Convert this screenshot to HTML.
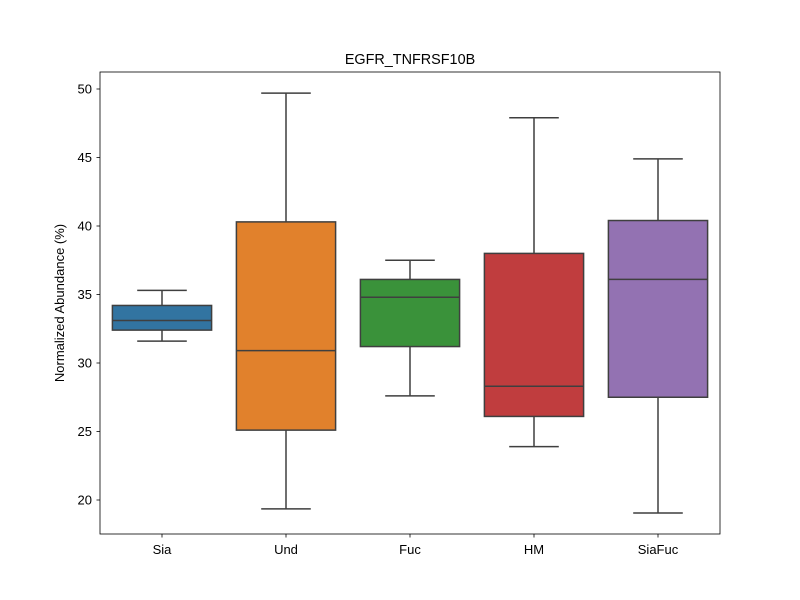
<!DOCTYPE html>
<html><head><meta charset="utf-8"><style>
body{margin:0;background:#fff;}
svg{display:block;font-family:"Liberation Sans","DejaVu Sans",sans-serif;}
</style></head><body>
<svg id="chart" width="800" height="600" viewBox="0 0 800 600">
<rect x="0" y="0" width="800" height="600" fill="#fff"/>
<text x="410" y="64" text-anchor="middle" font-size="14.4">EGFR_TNFRSF10B</text>
<g id="boxes"></g>
<g id="yticks"></g>
<g id="xticks"></g>
<rect x="100" y="72" width="620" height="462" fill="none" stroke="#000" stroke-width="0.8"/>
<text transform="translate(64,303) rotate(-90)" text-anchor="middle" font-size="13">Normalized Abundance (%)</text>
</svg>
<script>
const categories = ["Sia","Und","Fuc","HM","SiaFuc"];
const whiskerLow = [31.6,19.35,27.6,23.9,19.05];
const q1 = [32.4,25.1,31.2,26.1,27.5];
const median = [33.1,30.9,34.8,28.3,36.1];
const q3 = [34.2,40.3,36.1,38.0,40.4];
const whiskerHigh = [35.3,49.7,37.5,47.9,44.9];
const yTicks = [20,25,30,35,40,45,50];
const colors = ["#3274a1","#e1812c","#3a923a","#c03d3e","#9372b2"];

const NS="http://www.w3.org/2000/svg";
const left=100,right=720;
function y(v){return 500-(v-20)*(411/30);}
const band=(right-left)/categories.length;
function xc(i){return left+band*(i+0.5);}
function mk(tag,attrs,parent){const e=document.createElementNS(NS,tag);for(const k in attrs)e.setAttribute(k,attrs[k]);parent.appendChild(e);return e;}
const gb=document.getElementById('boxes'),gy=document.getElementById('yticks'),gx=document.getElementById('xticks');
const lc="#3f3f3f";
categories.forEach((c,i)=>{
  const cx=xc(i),bw=band*0.8,cw=bw/2;
  const g=mk('g',{},gb);
  
  
  mk('line',{x1:cx,x2:cx,y1:y(whiskerLow[i]),y2:y(q1[i]),stroke:lc,'stroke-width':1.5},g);
  mk('line',{x1:cx,x2:cx,y1:y(q3[i]),y2:y(whiskerHigh[i]),stroke:lc,'stroke-width':1.5},g);
  mk('line',{x1:cx-cw/2,x2:cx+cw/2,y1:y(whiskerLow[i]),y2:y(whiskerLow[i]),stroke:lc,'stroke-width':1.5},g);
  mk('line',{x1:cx-cw/2,x2:cx+cw/2,y1:y(whiskerHigh[i]),y2:y(whiskerHigh[i]),stroke:lc,'stroke-width':1.5},g);
  mk('rect',{x:cx-bw/2,y:y(q3[i]),width:bw,height:y(q1[i])-y(q3[i]),fill:colors[i],stroke:lc,'stroke-width':1.5},g);
  mk('line',{x1:cx-bw/2,x2:cx+bw/2,y1:y(median[i]),y2:y(median[i]),stroke:lc,'stroke-width':1.5},g);
  mk('line',{x1:cx,x2:cx,y1:534,y2:537.5,stroke:'#000','stroke-width':0.8},gx);
  const t=mk('text',{x:cx,y:554,'text-anchor':'middle','font-size':13},gx);
  t.textContent=c;
  
  
});
yTicks.forEach(v=>{
  mk('line',{x1:96.5,x2:100,y1:y(v),y2:y(v),stroke:'#000','stroke-width':0.8},gy);
  const t=mk('text',{x:92,y:y(v)+4.5,'text-anchor':'end','font-size':13},gy);
  t.textContent=v;
  
  
});
</script>
</body></html>
